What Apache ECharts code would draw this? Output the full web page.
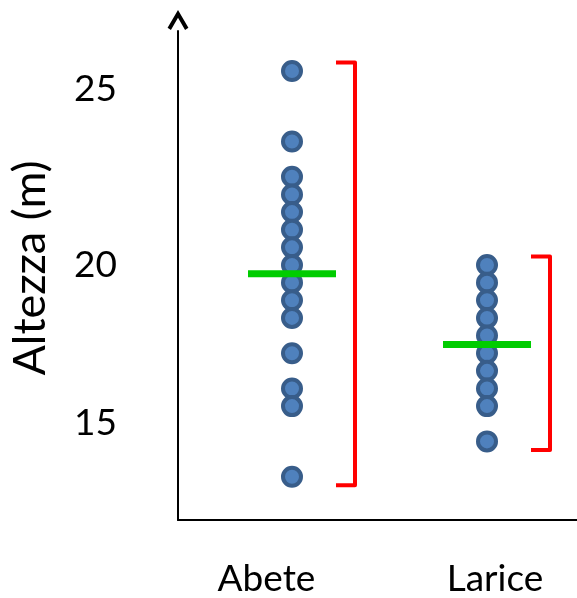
<!DOCTYPE html>
<html><head><meta charset="utf-8">
<script src="https://cdn.jsdelivr.net/npm/echarts@6/dist/echarts.min.js"></script>
<style>html,body{margin:0;padding:0;background:#fff}#c{width:577px;height:598px}</style>
</head><body><div id="c"></div>
<script>
// ---- data ----
const categories = ['Abete', 'Larice'];
const abeteHeights = [25.5, 23.5, 22.5, 22, 21.5, 21, 20.5, 20, 19.5, 19, 18.5, 17.5, 16.5, 16, 14];
const lariceHeights = [20, 19.5, 19, 18.5, 18, 17.5, 17, 16.5, 16, 15];
const meanHeights = [19.75, 17.75];
const yTickValues = [15, 20, 25];
const yAxisName = 'Altezza (m)';

// ---- build ----
const groups = [abeteHeights, lariceHeights];
const pointData = [];
groups.forEach((g, i) => g.forEach(v => pointData.push([i + 1, v])));
const meanData = meanHeights.map((m, i) => [i + 1, m]);
const rangeData = groups.map((g, i) => [i + 1, Math.min(...g), Math.max(...g)]);

const FONT = 'Lato';
const txt = (size, extra) => Object.assign({fontSize: size, fontFamily: FONT, color: '#000'}, extra || {});

const chart = echarts.init(document.getElementById('c'), null, {renderer: 'canvas'});
chart.setOption({
  animation: false,
  backgroundColor: '#fff',
  grid: {left: 178, right: 0, top: 31, bottom: 78, containLabel: false, outerBoundsMode: 'none'},
  xAxis: {
    type: 'value', min: 0.4154, max: 2.4615,
    splitLine: {show: false}, axisTick: {show: false},
    axisLine: {show: true, onZero: false, lineStyle: {color: '#000', width: 2}},
    axisLabel: {
      customValues: [1, 2], margin: 41,
      formatter: v => (v === 1 ? '{a|' : '{b|') + categories[v - 1] + '}',
      rich: {
        a: txt(37, {padding: [0, 51, 0, 0]}),
        b: txt(37, {padding: [0, 0, 0, 16]})
      }
    }
  },
  yAxis: {
    type: 'value', min: 12.772, max: 26.633,
    splitLine: {show: false},
    axisTick: {show: false},
    axisLine: {show: true, onZero: false,
      symbol: ['none', 'path://M0,17 L10,0 L20,17 L16.8,19.2 L10,7.4 L3.2,19.2 Z'],
      symbolSize: [21, 20], symbolOffset: [0, 11],
      lineStyle: {color: '#000', width: 2}},
    axisLabel: {
      customValues: yTickValues, margin: 61,
      formatter: v => (v === 15 ? '{s|' : '{n|') + v + '}',
      rich: {
        n: txt(37),
        s: txt(37, {padding: [0, 0, 37, 0]})
      }
    },
    name: yAxisName, nameLocation: 'middle', nameGap: 125, nameRotate: 90,
    nameTextStyle: txt(45, {padding: [0, 0, 0, 15]})
  },
  series: [
    {
      type: 'scatter', data: pointData, symbol: 'circle', symbolSize: 18,
      itemStyle: {color: '#4F81BD', borderColor: '#385D8A', borderWidth: 4, opacity: 1},
      z: 2
    },
    {
      type: 'scatter', data: meanData, symbol: 'rect', symbolSize: [88, 7],
      itemStyle: {color: '#00CC00', opacity: 1}, z: 3
    },
    {
      type: 'custom', data: rangeData, encode: {x: 0, y: [1, 2]}, z: 3,
      renderItem: function (params, api) {
        const x = api.value(0);
        const lo = api.coord([x, api.value(1)]);
        const hi = api.coord([x, api.value(2)]);
        const xb = lo[0] + 63, pad = 8.5, arm = 19;
        return {
          type: 'polyline',
          shape: {points: [[xb - arm, hi[1] - pad], [xb, hi[1] - pad], [xb, lo[1] + pad], [xb - arm, lo[1] + pad]]},
          style: {stroke: '#FF0000', lineWidth: 4, fill: null, lineJoin: 'round', lineCap: 'butt'}
        };
      }
    }
  ]
});
</script>
</body></html>
